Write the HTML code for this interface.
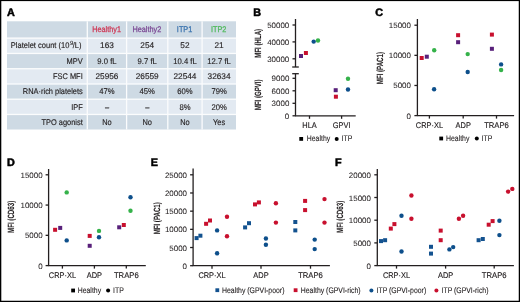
<!DOCTYPE html>
<html><head><meta charset="utf-8"><title>Figure</title>
<style>
html,body{margin:0;padding:0;background:#fff;}
body{width:520px;height:302px;overflow:hidden;position:relative;}
svg{position:absolute;left:0;top:0;font-family:"Liberation Sans", sans-serif;will-change:transform;text-rendering:geometricPrecision;}
</style></head>
<body>
<svg width="520" height="302" viewBox="0 0 520 302">
<rect x="0" y="0" width="520" height="302" fill="#fff"/>
<text transform="translate(7.00 15.80) scale(1.000 1)" font-size="10.80" text-anchor="start" fill="#000" font-weight="bold" stroke="#000" stroke-width="0.5" >A</text>
<rect x="7" y="21.3" width="229" height="16.80" fill="#cedae4"/>
<rect x="7" y="38.1" width="229" height="15.35" fill="#e3eaf2"/>
<rect x="7" y="53.45" width="229" height="15.30" fill="#cedae4"/>
<rect x="7" y="68.75" width="229" height="15.25" fill="#e3eaf2"/>
<rect x="7" y="84.0" width="229" height="15.20" fill="#cedae4"/>
<rect x="7" y="99.2" width="229" height="15.25" fill="#e3eaf2"/>
<rect x="7" y="114.45" width="229" height="15.05" fill="#cedae4"/>
<rect x="7" y="37.45" width="229" height="1.3" fill="#fbfcfd"/>
<rect x="7" y="52.80" width="229" height="1.3" fill="#fbfcfd"/>
<rect x="7" y="68.10" width="229" height="1.3" fill="#fbfcfd"/>
<rect x="7" y="83.35" width="229" height="1.3" fill="#fbfcfd"/>
<rect x="7" y="98.55" width="229" height="1.3" fill="#fbfcfd"/>
<rect x="7" y="113.80" width="229" height="1.3" fill="#fbfcfd"/>
<rect x="86.65" y="21.3" width="1.3" height="108.20" fill="#fbfcfd"/>
<rect x="125.95" y="21.3" width="1.3" height="108.20" fill="#fbfcfd"/>
<rect x="167.15" y="21.3" width="1.3" height="108.20" fill="#fbfcfd"/>
<rect x="201.45" y="21.3" width="1.3" height="108.20" fill="#fbfcfd"/>
<text transform="translate(106.55 32.10) scale(0.890 1)" font-size="8.20" text-anchor="middle" fill="#cf3553" font-weight="normal" stroke="#cf3553" stroke-width="0.25" >Healthy1</text>
<text transform="translate(146.80 32.10) scale(0.890 1)" font-size="8.20" text-anchor="middle" fill="#7a4793" font-weight="normal" stroke="#7a4793" stroke-width="0.25" >Healthy2</text>
<text transform="translate(184.55 32.10) scale(0.890 1)" font-size="8.20" text-anchor="middle" fill="#3771ad" font-weight="normal" stroke="#3771ad" stroke-width="0.25" >ITP1</text>
<text transform="translate(218.65 32.10) scale(0.890 1)" font-size="8.20" text-anchor="middle" fill="#4cb858" font-weight="normal" stroke="#4cb858" stroke-width="0.25" >ITP2</text>
<text transform="translate(69.40 48.30) scale(0.912 1)" font-size="8.25" text-anchor="end" fill="#231f20" font-weight="normal" stroke="#231f20" stroke-width="0.15" >Platelet count (10</text>
<text transform="translate(70.00 45.00) scale(1.000 1)" font-size="6.00" text-anchor="start" fill="#231f20" font-weight="normal" stroke="#231f20" stroke-width="0.1" >9</text>
<text transform="translate(72.70 48.30) scale(0.900 1)" font-size="8.25" text-anchor="start" fill="#231f20" font-weight="normal" stroke="#231f20" stroke-width="0.15" >/L)</text>
<text transform="translate(106.95 48.30) scale(1.000 1)" font-size="8.25" text-anchor="middle" fill="#231f20" font-weight="normal" stroke="#231f20" stroke-width="0.15" >163</text>
<text transform="translate(147.20 48.30) scale(1.000 1)" font-size="8.25" text-anchor="middle" fill="#231f20" font-weight="normal" stroke="#231f20" stroke-width="0.15" >254</text>
<text transform="translate(184.95 48.30) scale(1.000 1)" font-size="8.25" text-anchor="middle" fill="#231f20" font-weight="normal" stroke="#231f20" stroke-width="0.15" >52</text>
<text transform="translate(219.05 48.30) scale(1.000 1)" font-size="8.25" text-anchor="middle" fill="#231f20" font-weight="normal" stroke="#231f20" stroke-width="0.15" >21</text>
<text transform="translate(82.70 63.60) scale(0.900 1)" font-size="8.25" text-anchor="end" fill="#231f20" font-weight="normal" stroke="#231f20" stroke-width="0.15" >MPV</text>
<text transform="translate(106.95 63.60) scale(0.930 1)" font-size="8.25" text-anchor="middle" fill="#231f20" font-weight="normal" stroke="#231f20" stroke-width="0.15" >9.0 fL</text>
<text transform="translate(147.20 63.60) scale(0.930 1)" font-size="8.25" text-anchor="middle" fill="#231f20" font-weight="normal" stroke="#231f20" stroke-width="0.15" >9.7 fL</text>
<text transform="translate(184.95 63.60) scale(0.930 1)" font-size="8.25" text-anchor="middle" fill="#231f20" font-weight="normal" stroke="#231f20" stroke-width="0.15" >10.4 fL</text>
<text transform="translate(219.05 63.60) scale(0.930 1)" font-size="8.25" text-anchor="middle" fill="#231f20" font-weight="normal" stroke="#231f20" stroke-width="0.15" >12.7 fL</text>
<text transform="translate(82.70 78.90) scale(0.900 1)" font-size="8.25" text-anchor="end" fill="#231f20" font-weight="normal" stroke="#231f20" stroke-width="0.15" >FSC MFI</text>
<text transform="translate(106.95 78.90) scale(1.000 1)" font-size="8.25" text-anchor="middle" fill="#231f20" font-weight="normal" stroke="#231f20" stroke-width="0.15" >25956</text>
<text transform="translate(147.20 78.90) scale(1.000 1)" font-size="8.25" text-anchor="middle" fill="#231f20" font-weight="normal" stroke="#231f20" stroke-width="0.15" >26559</text>
<text transform="translate(184.95 78.90) scale(1.000 1)" font-size="8.25" text-anchor="middle" fill="#231f20" font-weight="normal" stroke="#231f20" stroke-width="0.15" >22544</text>
<text transform="translate(219.05 78.90) scale(1.000 1)" font-size="8.25" text-anchor="middle" fill="#231f20" font-weight="normal" stroke="#231f20" stroke-width="0.15" >32634</text>
<text transform="translate(82.70 94.20) scale(0.900 1)" font-size="8.25" text-anchor="end" fill="#231f20" font-weight="normal" stroke="#231f20" stroke-width="0.15" >RNA·rich platelets</text>
<text transform="translate(106.95 94.20) scale(0.930 1)" font-size="8.25" text-anchor="middle" fill="#231f20" font-weight="normal" stroke="#231f20" stroke-width="0.15" >47%</text>
<text transform="translate(147.20 94.20) scale(0.930 1)" font-size="8.25" text-anchor="middle" fill="#231f20" font-weight="normal" stroke="#231f20" stroke-width="0.15" >45%</text>
<text transform="translate(184.95 94.20) scale(0.930 1)" font-size="8.25" text-anchor="middle" fill="#231f20" font-weight="normal" stroke="#231f20" stroke-width="0.15" >60%</text>
<text transform="translate(219.05 94.20) scale(0.930 1)" font-size="8.25" text-anchor="middle" fill="#231f20" font-weight="normal" stroke="#231f20" stroke-width="0.15" >79%</text>
<text transform="translate(82.70 109.50) scale(0.900 1)" font-size="8.25" text-anchor="end" fill="#231f20" font-weight="normal" stroke="#231f20" stroke-width="0.15" >IPF</text>
<text transform="translate(106.95 109.50) scale(0.900 1)" font-size="8.25" text-anchor="middle" fill="#231f20" font-weight="normal" stroke="#231f20" stroke-width="0.15" >–</text>
<text transform="translate(147.20 109.50) scale(0.900 1)" font-size="8.25" text-anchor="middle" fill="#231f20" font-weight="normal" stroke="#231f20" stroke-width="0.15" >–</text>
<text transform="translate(184.95 109.50) scale(0.930 1)" font-size="8.25" text-anchor="middle" fill="#231f20" font-weight="normal" stroke="#231f20" stroke-width="0.15" >8%</text>
<text transform="translate(219.05 109.50) scale(0.930 1)" font-size="8.25" text-anchor="middle" fill="#231f20" font-weight="normal" stroke="#231f20" stroke-width="0.15" >20%</text>
<text transform="translate(82.70 124.80) scale(0.900 1)" font-size="8.25" text-anchor="end" fill="#231f20" font-weight="normal" stroke="#231f20" stroke-width="0.15" >TPO agonist</text>
<text transform="translate(106.95 124.80) scale(0.900 1)" font-size="8.25" text-anchor="middle" fill="#231f20" font-weight="normal" stroke="#231f20" stroke-width="0.15" >No</text>
<text transform="translate(147.20 124.80) scale(0.900 1)" font-size="8.25" text-anchor="middle" fill="#231f20" font-weight="normal" stroke="#231f20" stroke-width="0.15" >No</text>
<text transform="translate(184.95 124.80) scale(0.900 1)" font-size="8.25" text-anchor="middle" fill="#231f20" font-weight="normal" stroke="#231f20" stroke-width="0.15" >No</text>
<text transform="translate(219.05 124.80) scale(0.900 1)" font-size="8.25" text-anchor="middle" fill="#231f20" font-weight="normal" stroke="#231f20" stroke-width="0.15" >Yes</text>
<text transform="translate(253.30 15.80) scale(1.000 1)" font-size="10.80" text-anchor="start" fill="#000" font-weight="bold" stroke="#000" stroke-width="0.5" >B</text>
<line x1="295.50" y1="19.00" x2="295.50" y2="67.00" stroke="#231f20" stroke-width="1.3"/>
<line x1="292.50" y1="25.00" x2="295.50" y2="25.00" stroke="#231f20" stroke-width="1.3"/>
<text transform="translate(289.30 28.00) scale(1.030 1)" font-size="7.73" text-anchor="end" fill="#231f20" font-weight="normal" stroke="#231f20" stroke-width="0.05" >50000</text>
<line x1="292.50" y1="41.90" x2="295.50" y2="41.90" stroke="#231f20" stroke-width="1.3"/>
<text transform="translate(289.30 44.90) scale(1.030 1)" font-size="7.73" text-anchor="end" fill="#231f20" font-weight="normal" stroke="#231f20" stroke-width="0.05" >40000</text>
<line x1="292.50" y1="58.80" x2="295.50" y2="58.80" stroke="#231f20" stroke-width="1.3"/>
<text transform="translate(289.30 61.80) scale(1.030 1)" font-size="7.73" text-anchor="end" fill="#231f20" font-weight="normal" stroke="#231f20" stroke-width="0.05" >30000</text>
<line x1="292.20" y1="67.00" x2="298.80" y2="67.00" stroke="#231f20" stroke-width="1.3"/>
<line x1="295.50" y1="73.70" x2="295.50" y2="115.80" stroke="#231f20" stroke-width="1.3"/>
<line x1="292.20" y1="73.70" x2="298.80" y2="73.70" stroke="#231f20" stroke-width="1.3"/>
<line x1="292.50" y1="78.30" x2="295.50" y2="78.30" stroke="#231f20" stroke-width="1.3"/>
<text transform="translate(289.30 81.30) scale(1.030 1)" font-size="7.73" text-anchor="end" fill="#231f20" font-weight="normal" stroke="#231f20" stroke-width="0.05" >9000</text>
<line x1="292.50" y1="90.80" x2="295.50" y2="90.80" stroke="#231f20" stroke-width="1.3"/>
<text transform="translate(289.30 93.80) scale(1.030 1)" font-size="7.73" text-anchor="end" fill="#231f20" font-weight="normal" stroke="#231f20" stroke-width="0.05" >6000</text>
<line x1="292.50" y1="103.30" x2="295.50" y2="103.30" stroke="#231f20" stroke-width="1.3"/>
<text transform="translate(289.30 106.30) scale(1.030 1)" font-size="7.73" text-anchor="end" fill="#231f20" font-weight="normal" stroke="#231f20" stroke-width="0.05" >3000</text>
<line x1="292.50" y1="115.80" x2="295.50" y2="115.80" stroke="#231f20" stroke-width="1.3"/>
<text transform="translate(289.30 118.80) scale(1.030 1)" font-size="7.73" text-anchor="end" fill="#231f20" font-weight="normal" stroke="#231f20" stroke-width="0.05" >0</text>
<line x1="295.00" y1="115.80" x2="355.70" y2="115.80" stroke="#231f20" stroke-width="1.3"/>
<line x1="309.50" y1="115.80" x2="309.50" y2="118.80" stroke="#231f20" stroke-width="1.3"/>
<text transform="translate(309.50 127.80) scale(0.900 1)" font-size="8.25" text-anchor="middle" fill="#231f20" font-weight="normal" stroke="#231f20" stroke-width="0.15" >HLA</text>
<line x1="341.60" y1="115.80" x2="341.60" y2="118.80" stroke="#231f20" stroke-width="1.3"/>
<text transform="translate(341.60 127.80) scale(0.900 1)" font-size="8.25" text-anchor="middle" fill="#231f20" font-weight="normal" stroke="#231f20" stroke-width="0.15" >GPVI</text>
<text x="0" y="0" font-size="9.0" text-anchor="middle" fill="#231f20" font-weight="bold" stroke="#231f20" stroke-width="0.12" transform="translate(257.5 43.3) rotate(-90) scale(0.677 1)" dominant-baseline="central">MFI (HLA)</text>
<text x="0" y="0" font-size="9.0" text-anchor="middle" fill="#231f20" font-weight="bold" stroke="#231f20" stroke-width="0.12" transform="translate(257.6 94.9) rotate(-90) scale(0.677 1)" dominant-baseline="central">MFI (GPVI)</text>
<rect x="299.00" y="54.00" width="4.0" height="4.0" fill="#58207a"/>
<rect x="303.90" y="51.00" width="4.0" height="4.0" fill="#c8102e"/>
<circle cx="313.7" cy="41.6" r="2.2" fill="#0d4f8b"/>
<circle cx="318.0" cy="40.5" r="2.2" fill="#35b24a"/>
<rect x="333.70" y="88.20" width="4.0" height="4.0" fill="#58207a"/>
<rect x="333.90" y="94.70" width="4.0" height="4.0" fill="#c8102e"/>
<circle cx="348.0" cy="78.8" r="2.2" fill="#35b24a"/>
<circle cx="348.0" cy="89.5" r="2.2" fill="#0d4f8b"/>
<rect x="299.30" y="137.00" width="3.8" height="3.8" fill="#000"/>
<text transform="translate(306.80 141.40) scale(0.855 1)" font-size="8.07" text-anchor="start" fill="#231f20" font-weight="normal" stroke="#231f20" stroke-width="0.1" >Healthy</text>
<circle cx="336.7" cy="138.9" r="2.0" fill="#000"/>
<text transform="translate(341.60 141.40) scale(0.855 1)" font-size="8.07" text-anchor="start" fill="#231f20" font-weight="normal" stroke="#231f20" stroke-width="0.1" >ITP</text>
<text transform="translate(375.20 15.70) scale(1.000 1)" font-size="10.80" text-anchor="start" fill="#000" font-weight="bold" stroke="#000" stroke-width="0.5" >C</text>
<line x1="417.40" y1="19.00" x2="417.40" y2="115.60" stroke="#231f20" stroke-width="1.3"/>
<line x1="414.40" y1="115.60" x2="417.40" y2="115.60" stroke="#231f20" stroke-width="1.3"/>
<text transform="translate(410.90 118.60) scale(1.030 1)" font-size="7.73" text-anchor="end" fill="#231f20" font-weight="normal" stroke="#231f20" stroke-width="0.05" >0</text>
<line x1="414.40" y1="85.47" x2="417.40" y2="85.47" stroke="#231f20" stroke-width="1.3"/>
<text transform="translate(410.90 88.47) scale(1.030 1)" font-size="7.73" text-anchor="end" fill="#231f20" font-weight="normal" stroke="#231f20" stroke-width="0.05" >5000</text>
<line x1="414.40" y1="55.34" x2="417.40" y2="55.34" stroke="#231f20" stroke-width="1.3"/>
<text transform="translate(410.90 58.34) scale(1.030 1)" font-size="7.73" text-anchor="end" fill="#231f20" font-weight="normal" stroke="#231f20" stroke-width="0.05" >10000</text>
<line x1="414.40" y1="25.21" x2="417.40" y2="25.21" stroke="#231f20" stroke-width="1.3"/>
<text transform="translate(410.90 28.21) scale(1.030 1)" font-size="7.73" text-anchor="end" fill="#231f20" font-weight="normal" stroke="#231f20" stroke-width="0.05" >15000</text>
<line x1="416.90" y1="115.60" x2="514.10" y2="115.60" stroke="#231f20" stroke-width="1.3"/>
<line x1="429.40" y1="115.60" x2="429.40" y2="118.60" stroke="#231f20" stroke-width="1.3"/>
<text transform="translate(429.40 127.70) scale(0.900 1)" font-size="8.25" text-anchor="middle" fill="#231f20" font-weight="normal" stroke="#231f20" stroke-width="0.15" >CRP·XL</text>
<line x1="463.20" y1="115.60" x2="463.20" y2="118.60" stroke="#231f20" stroke-width="1.3"/>
<text transform="translate(463.20 127.70) scale(0.900 1)" font-size="8.25" text-anchor="middle" fill="#231f20" font-weight="normal" stroke="#231f20" stroke-width="0.15" >ADP</text>
<line x1="496.50" y1="115.60" x2="496.50" y2="118.60" stroke="#231f20" stroke-width="1.3"/>
<text transform="translate(496.50 127.70) scale(0.930 1)" font-size="8.25" text-anchor="middle" fill="#231f20" font-weight="normal" stroke="#231f20" stroke-width="0.15" >TRAP6</text>
<text x="0" y="0" font-size="9.0" text-anchor="middle" fill="#231f20" font-weight="bold" stroke="#231f20" stroke-width="0.12" transform="translate(380.1 68.1) rotate(-90) scale(0.677 1)" dominant-baseline="central">MFI (PAC1)</text>
<rect x="419.70" y="56.00" width="4.0" height="4.0" fill="#c8102e"/>
<rect x="424.80" y="54.70" width="4.0" height="4.0" fill="#58207a"/>
<circle cx="434.2" cy="50.3" r="2.2" fill="#35b24a"/>
<circle cx="434.1" cy="89.3" r="2.2" fill="#0d4f8b"/>
<rect x="456.10" y="33.20" width="4.0" height="4.0" fill="#c8102e"/>
<rect x="456.10" y="40.20" width="4.0" height="4.0" fill="#58207a"/>
<circle cx="467.7" cy="54.1" r="2.2" fill="#35b24a"/>
<circle cx="467.7" cy="72.0" r="2.2" fill="#0d4f8b"/>
<rect x="489.90" y="32.60" width="4.0" height="4.0" fill="#c8102e"/>
<rect x="489.90" y="46.80" width="4.0" height="4.0" fill="#58207a"/>
<circle cx="501.1" cy="64.4" r="2.2" fill="#0d4f8b"/>
<circle cx="501.1" cy="70.0" r="2.2" fill="#35b24a"/>
<rect x="439.30" y="136.60" width="3.8" height="3.8" fill="#000"/>
<text transform="translate(446.00 141.00) scale(0.855 1)" font-size="8.07" text-anchor="start" fill="#231f20" font-weight="normal" stroke="#231f20" stroke-width="0.1" >Healthy</text>
<circle cx="476.8" cy="138.5" r="2.0" fill="#000"/>
<text transform="translate(481.50 141.00) scale(0.855 1)" font-size="8.07" text-anchor="start" fill="#231f20" font-weight="normal" stroke="#231f20" stroke-width="0.1" >ITP</text>
<text transform="translate(7.00 165.50) scale(1.000 1)" font-size="10.80" text-anchor="start" fill="#000" font-weight="bold" stroke="#000" stroke-width="0.5" >D</text>
<line x1="48.60" y1="169.00" x2="48.60" y2="265.60" stroke="#231f20" stroke-width="1.3"/>
<line x1="45.60" y1="265.60" x2="48.60" y2="265.60" stroke="#231f20" stroke-width="1.3"/>
<text transform="translate(42.60 268.60) scale(1.030 1)" font-size="7.73" text-anchor="end" fill="#231f20" font-weight="normal" stroke="#231f20" stroke-width="0.05" >0</text>
<line x1="45.60" y1="235.33" x2="48.60" y2="235.33" stroke="#231f20" stroke-width="1.3"/>
<text transform="translate(42.60 238.33) scale(1.030 1)" font-size="7.73" text-anchor="end" fill="#231f20" font-weight="normal" stroke="#231f20" stroke-width="0.05" >5000</text>
<line x1="45.60" y1="205.06" x2="48.60" y2="205.06" stroke="#231f20" stroke-width="1.3"/>
<text transform="translate(42.60 208.06) scale(1.030 1)" font-size="7.73" text-anchor="end" fill="#231f20" font-weight="normal" stroke="#231f20" stroke-width="0.05" >10000</text>
<line x1="45.60" y1="174.79" x2="48.60" y2="174.79" stroke="#231f20" stroke-width="1.3"/>
<text transform="translate(42.60 177.79) scale(1.030 1)" font-size="7.73" text-anchor="end" fill="#231f20" font-weight="normal" stroke="#231f20" stroke-width="0.05" >15000</text>
<line x1="48.10" y1="265.60" x2="145.80" y2="265.60" stroke="#231f20" stroke-width="1.3"/>
<line x1="62.40" y1="265.60" x2="62.40" y2="268.60" stroke="#231f20" stroke-width="1.3"/>
<text transform="translate(62.40 277.70) scale(0.900 1)" font-size="8.25" text-anchor="middle" fill="#231f20" font-weight="normal" stroke="#231f20" stroke-width="0.15" >CRP·XL</text>
<line x1="94.40" y1="265.60" x2="94.40" y2="268.60" stroke="#231f20" stroke-width="1.3"/>
<text transform="translate(94.40 277.70) scale(0.900 1)" font-size="8.25" text-anchor="middle" fill="#231f20" font-weight="normal" stroke="#231f20" stroke-width="0.15" >ADP</text>
<line x1="126.30" y1="265.60" x2="126.30" y2="268.60" stroke="#231f20" stroke-width="1.3"/>
<text transform="translate(126.30 277.70) scale(0.930 1)" font-size="8.25" text-anchor="middle" fill="#231f20" font-weight="normal" stroke="#231f20" stroke-width="0.15" >TRAP6</text>
<text x="0" y="0" font-size="9.0" text-anchor="middle" fill="#231f20" font-weight="bold" stroke="#231f20" stroke-width="0.12" transform="translate(11.3 216.9) rotate(-90) scale(0.685 1)" dominant-baseline="central">MFI (CD63)</text>
<rect x="53.10" y="227.80" width="4.0" height="4.0" fill="#c8102e"/>
<rect x="58.20" y="225.90" width="4.0" height="4.0" fill="#58207a"/>
<circle cx="66.7" cy="192.4" r="2.2" fill="#35b24a"/>
<circle cx="66.7" cy="240.4" r="2.2" fill="#0d4f8b"/>
<rect x="87.70" y="233.90" width="4.0" height="4.0" fill="#c8102e"/>
<rect x="87.70" y="243.80" width="4.0" height="4.0" fill="#58207a"/>
<circle cx="99.0" cy="230.9" r="2.2" fill="#35b24a"/>
<circle cx="99.0" cy="237.2" r="2.2" fill="#0d4f8b"/>
<rect x="117.20" y="225.30" width="4.0" height="4.0" fill="#58207a"/>
<rect x="121.80" y="223.00" width="4.0" height="4.0" fill="#c8102e"/>
<circle cx="130.5" cy="197.2" r="2.2" fill="#0d4f8b"/>
<circle cx="130.5" cy="210.7" r="2.2" fill="#35b24a"/>
<rect x="71.20" y="288.60" width="3.8" height="3.8" fill="#000"/>
<text transform="translate(77.70 293.00) scale(0.855 1)" font-size="8.07" text-anchor="start" fill="#231f20" font-weight="normal" stroke="#231f20" stroke-width="0.1" >Healthy</text>
<circle cx="108.1" cy="290.5" r="2.0" fill="#000"/>
<text transform="translate(113.00 293.00) scale(0.855 1)" font-size="8.07" text-anchor="start" fill="#231f20" font-weight="normal" stroke="#231f20" stroke-width="0.1" >ITP</text>
<text transform="translate(150.80 165.50) scale(1.000 1)" font-size="10.80" text-anchor="start" fill="#000" font-weight="bold" stroke="#000" stroke-width="0.5" >E</text>
<line x1="193.10" y1="168.50" x2="193.10" y2="265.70" stroke="#231f20" stroke-width="1.3"/>
<line x1="190.10" y1="265.70" x2="193.10" y2="265.70" stroke="#231f20" stroke-width="1.3"/>
<text transform="translate(187.00 268.70) scale(1.030 1)" font-size="7.73" text-anchor="end" fill="#231f20" font-weight="normal" stroke="#231f20" stroke-width="0.05" >0</text>
<line x1="190.10" y1="247.52" x2="193.10" y2="247.52" stroke="#231f20" stroke-width="1.3"/>
<text transform="translate(187.00 250.52) scale(1.030 1)" font-size="7.73" text-anchor="end" fill="#231f20" font-weight="normal" stroke="#231f20" stroke-width="0.05" >5000</text>
<line x1="190.10" y1="229.34" x2="193.10" y2="229.34" stroke="#231f20" stroke-width="1.3"/>
<text transform="translate(187.00 232.34) scale(1.030 1)" font-size="7.73" text-anchor="end" fill="#231f20" font-weight="normal" stroke="#231f20" stroke-width="0.05" >10000</text>
<line x1="190.10" y1="211.16" x2="193.10" y2="211.16" stroke="#231f20" stroke-width="1.3"/>
<text transform="translate(187.00 214.16) scale(1.030 1)" font-size="7.73" text-anchor="end" fill="#231f20" font-weight="normal" stroke="#231f20" stroke-width="0.05" >15000</text>
<line x1="190.10" y1="192.98" x2="193.10" y2="192.98" stroke="#231f20" stroke-width="1.3"/>
<text transform="translate(187.00 195.98) scale(1.030 1)" font-size="7.73" text-anchor="end" fill="#231f20" font-weight="normal" stroke="#231f20" stroke-width="0.05" >20000</text>
<line x1="190.10" y1="174.80" x2="193.10" y2="174.80" stroke="#231f20" stroke-width="1.3"/>
<text transform="translate(187.00 177.80) scale(1.030 1)" font-size="7.73" text-anchor="end" fill="#231f20" font-weight="normal" stroke="#231f20" stroke-width="0.05" >25000</text>
<line x1="192.60" y1="265.70" x2="329.90" y2="265.70" stroke="#231f20" stroke-width="1.3"/>
<line x1="212.00" y1="265.70" x2="212.00" y2="268.70" stroke="#231f20" stroke-width="1.3"/>
<text transform="translate(212.00 277.80) scale(0.900 1)" font-size="8.25" text-anchor="middle" fill="#231f20" font-weight="normal" stroke="#231f20" stroke-width="0.15" >CRP·XL</text>
<line x1="261.00" y1="265.70" x2="261.00" y2="268.70" stroke="#231f20" stroke-width="1.3"/>
<text transform="translate(261.00 277.80) scale(0.900 1)" font-size="8.25" text-anchor="middle" fill="#231f20" font-weight="normal" stroke="#231f20" stroke-width="0.15" >ADP</text>
<line x1="310.50" y1="265.70" x2="310.50" y2="268.70" stroke="#231f20" stroke-width="1.3"/>
<text transform="translate(310.50 277.80) scale(0.930 1)" font-size="8.25" text-anchor="middle" fill="#231f20" font-weight="normal" stroke="#231f20" stroke-width="0.15" >TRAP6</text>
<text x="0" y="0" font-size="9.0" text-anchor="middle" fill="#231f20" font-weight="bold" stroke="#231f20" stroke-width="0.12" transform="translate(157.3 218.3) rotate(-90) scale(0.677 1)" dominant-baseline="central">MFI (PAC1)</text>
<rect x="194.60" y="236.10" width="4.0" height="4.0" fill="#13528f"/>
<rect x="198.40" y="233.70" width="4.0" height="4.0" fill="#13528f"/>
<rect x="204.10" y="221.80" width="4.0" height="4.0" fill="#c8102e"/>
<rect x="208.00" y="218.50" width="4.0" height="4.0" fill="#c8102e"/>
<circle cx="217.1" cy="230.4" r="2.2" fill="#0d4f8b"/>
<circle cx="217.1" cy="253.3" r="2.2" fill="#0d4f8b"/>
<circle cx="227.0" cy="216.7" r="2.2" fill="#c8102e"/>
<circle cx="227.0" cy="236.3" r="2.2" fill="#c8102e"/>
<rect x="243.10" y="225.40" width="4.0" height="4.0" fill="#13528f"/>
<rect x="247.00" y="221.20" width="4.0" height="4.0" fill="#13528f"/>
<rect x="253.00" y="202.40" width="4.0" height="4.0" fill="#c8102e"/>
<rect x="256.90" y="200.40" width="4.0" height="4.0" fill="#c8102e"/>
<circle cx="265.9" cy="238.5" r="2.2" fill="#0d4f8b"/>
<circle cx="265.9" cy="244.7" r="2.2" fill="#0d4f8b"/>
<circle cx="275.9" cy="203.2" r="2.2" fill="#c8102e"/>
<circle cx="275.9" cy="222.6" r="2.2" fill="#c8102e"/>
<rect x="293.30" y="220.00" width="4.0" height="4.0" fill="#13528f"/>
<rect x="293.30" y="228.40" width="4.0" height="4.0" fill="#13528f"/>
<rect x="303.10" y="198.90" width="4.0" height="4.0" fill="#c8102e"/>
<rect x="303.10" y="208.10" width="4.0" height="4.0" fill="#c8102e"/>
<circle cx="314.7" cy="239.6" r="2.2" fill="#0d4f8b"/>
<circle cx="314.7" cy="249.1" r="2.2" fill="#0d4f8b"/>
<circle cx="324.5" cy="199.1" r="2.2" fill="#c8102e"/>
<circle cx="324.5" cy="222.6" r="2.2" fill="#c8102e"/>
<text transform="translate(335.10 165.50) scale(1.000 1)" font-size="10.80" text-anchor="start" fill="#000" font-weight="bold" stroke="#000" stroke-width="0.5" >F</text>
<line x1="377.30" y1="169.00" x2="377.30" y2="265.60" stroke="#231f20" stroke-width="1.3"/>
<line x1="374.30" y1="265.60" x2="377.30" y2="265.60" stroke="#231f20" stroke-width="1.3"/>
<text transform="translate(370.90 268.60) scale(1.030 1)" font-size="7.73" text-anchor="end" fill="#231f20" font-weight="normal" stroke="#231f20" stroke-width="0.05" >0</text>
<line x1="374.30" y1="242.90" x2="377.30" y2="242.90" stroke="#231f20" stroke-width="1.3"/>
<text transform="translate(370.90 245.90) scale(1.030 1)" font-size="7.73" text-anchor="end" fill="#231f20" font-weight="normal" stroke="#231f20" stroke-width="0.05" >5000</text>
<line x1="374.30" y1="220.20" x2="377.30" y2="220.20" stroke="#231f20" stroke-width="1.3"/>
<text transform="translate(370.90 223.20) scale(1.030 1)" font-size="7.73" text-anchor="end" fill="#231f20" font-weight="normal" stroke="#231f20" stroke-width="0.05" >10000</text>
<line x1="374.30" y1="197.50" x2="377.30" y2="197.50" stroke="#231f20" stroke-width="1.3"/>
<text transform="translate(370.90 200.50) scale(1.030 1)" font-size="7.73" text-anchor="end" fill="#231f20" font-weight="normal" stroke="#231f20" stroke-width="0.05" >15000</text>
<line x1="374.30" y1="174.80" x2="377.30" y2="174.80" stroke="#231f20" stroke-width="1.3"/>
<text transform="translate(370.90 177.80) scale(1.030 1)" font-size="7.73" text-anchor="end" fill="#231f20" font-weight="normal" stroke="#231f20" stroke-width="0.05" >20000</text>
<line x1="376.80" y1="265.60" x2="513.90" y2="265.60" stroke="#231f20" stroke-width="1.3"/>
<line x1="396.50" y1="265.60" x2="396.50" y2="268.60" stroke="#231f20" stroke-width="1.3"/>
<text transform="translate(396.50 277.70) scale(0.900 1)" font-size="8.25" text-anchor="middle" fill="#231f20" font-weight="normal" stroke="#231f20" stroke-width="0.15" >CRP·XL</text>
<line x1="445.60" y1="265.60" x2="445.60" y2="268.60" stroke="#231f20" stroke-width="1.3"/>
<text transform="translate(445.60 277.70) scale(0.900 1)" font-size="8.25" text-anchor="middle" fill="#231f20" font-weight="normal" stroke="#231f20" stroke-width="0.15" >ADP</text>
<line x1="494.20" y1="265.60" x2="494.20" y2="268.60" stroke="#231f20" stroke-width="1.3"/>
<text transform="translate(494.20 277.70) scale(0.930 1)" font-size="8.25" text-anchor="middle" fill="#231f20" font-weight="normal" stroke="#231f20" stroke-width="0.15" >TRAP6</text>
<text x="0" y="0" font-size="9.0" text-anchor="middle" fill="#231f20" font-weight="bold" stroke="#231f20" stroke-width="0.12" transform="translate(339.9 216.9) rotate(-90) scale(0.685 1)" dominant-baseline="central">MFI (CD63)</text>
<rect x="379.00" y="239.10" width="4.0" height="4.0" fill="#13528f"/>
<rect x="383.10" y="238.20" width="4.0" height="4.0" fill="#13528f"/>
<rect x="388.80" y="226.60" width="4.0" height="4.0" fill="#c8102e"/>
<rect x="392.40" y="222.10" width="4.0" height="4.0" fill="#c8102e"/>
<circle cx="401.5" cy="215.8" r="2.2" fill="#0d4f8b"/>
<circle cx="401.5" cy="251.5" r="2.2" fill="#0d4f8b"/>
<circle cx="411.4" cy="195.5" r="2.2" fill="#c8102e"/>
<circle cx="411.4" cy="218.7" r="2.2" fill="#c8102e"/>
<rect x="429.00" y="244.80" width="4.0" height="4.0" fill="#13528f"/>
<rect x="429.00" y="251.60" width="4.0" height="4.0" fill="#13528f"/>
<rect x="438.70" y="228.60" width="4.0" height="4.0" fill="#c8102e"/>
<rect x="438.70" y="238.20" width="4.0" height="4.0" fill="#c8102e"/>
<circle cx="449.4" cy="249.4" r="2.2" fill="#0d4f8b"/>
<circle cx="453.2" cy="247.1" r="2.2" fill="#0d4f8b"/>
<circle cx="458.9" cy="218.7" r="2.2" fill="#c8102e"/>
<circle cx="463.1" cy="215.8" r="2.2" fill="#c8102e"/>
<rect x="476.60" y="238.20" width="4.0" height="4.0" fill="#13528f"/>
<rect x="480.80" y="237.00" width="4.0" height="4.0" fill="#13528f"/>
<rect x="486.70" y="222.70" width="4.0" height="4.0" fill="#c8102e"/>
<rect x="490.60" y="219.10" width="4.0" height="4.0" fill="#c8102e"/>
<circle cx="499.4" cy="220.8" r="2.2" fill="#0d4f8b"/>
<circle cx="499.4" cy="235.1" r="2.2" fill="#0d4f8b"/>
<circle cx="508.1" cy="191.6" r="2.2" fill="#c8102e"/>
<circle cx="512.3" cy="188.9" r="2.2" fill="#c8102e"/>
<rect x="215.40" y="288.30" width="3.8" height="3.8" fill="#13528f"/>
<text transform="translate(222.00 292.90) scale(0.855 1)" font-size="8.07" text-anchor="start" fill="#231f20" font-weight="normal" stroke="#231f20" stroke-width="0.1" >Healthy (GPVI-poor)</text>
<rect x="293.70" y="288.30" width="3.8" height="3.8" fill="#c8102e"/>
<text transform="translate(300.80 292.90) scale(0.855 1)" font-size="8.07" text-anchor="start" fill="#231f20" font-weight="normal" stroke="#231f20" stroke-width="0.1" >Healthy (GPVI-rich)</text>
<circle cx="371.4" cy="290.4" r="2.0" fill="#0d4f8b"/>
<text transform="translate(376.50 292.90) scale(0.855 1)" font-size="8.07" text-anchor="start" fill="#231f20" font-weight="normal" stroke="#231f20" stroke-width="0.1" >ITP (GPVI-poor)</text>
<circle cx="436.4" cy="290.4" r="2.0" fill="#c8102e"/>
<text transform="translate(441.50 292.90) scale(0.855 1)" font-size="8.07" text-anchor="start" fill="#231f20" font-weight="normal" stroke="#231f20" stroke-width="0.1" >ITP (GPVI-rich)</text>
<rect x="0" y="0" width="520" height="1.1" fill="#000"/>
<rect x="0" y="300.75" width="520" height="1.25" fill="#000"/>
<rect x="0" y="0" width="1.3" height="302" fill="#000"/>
<rect x="518.75" y="0" width="1.25" height="302" fill="#000"/>
</svg>
</body></html>
